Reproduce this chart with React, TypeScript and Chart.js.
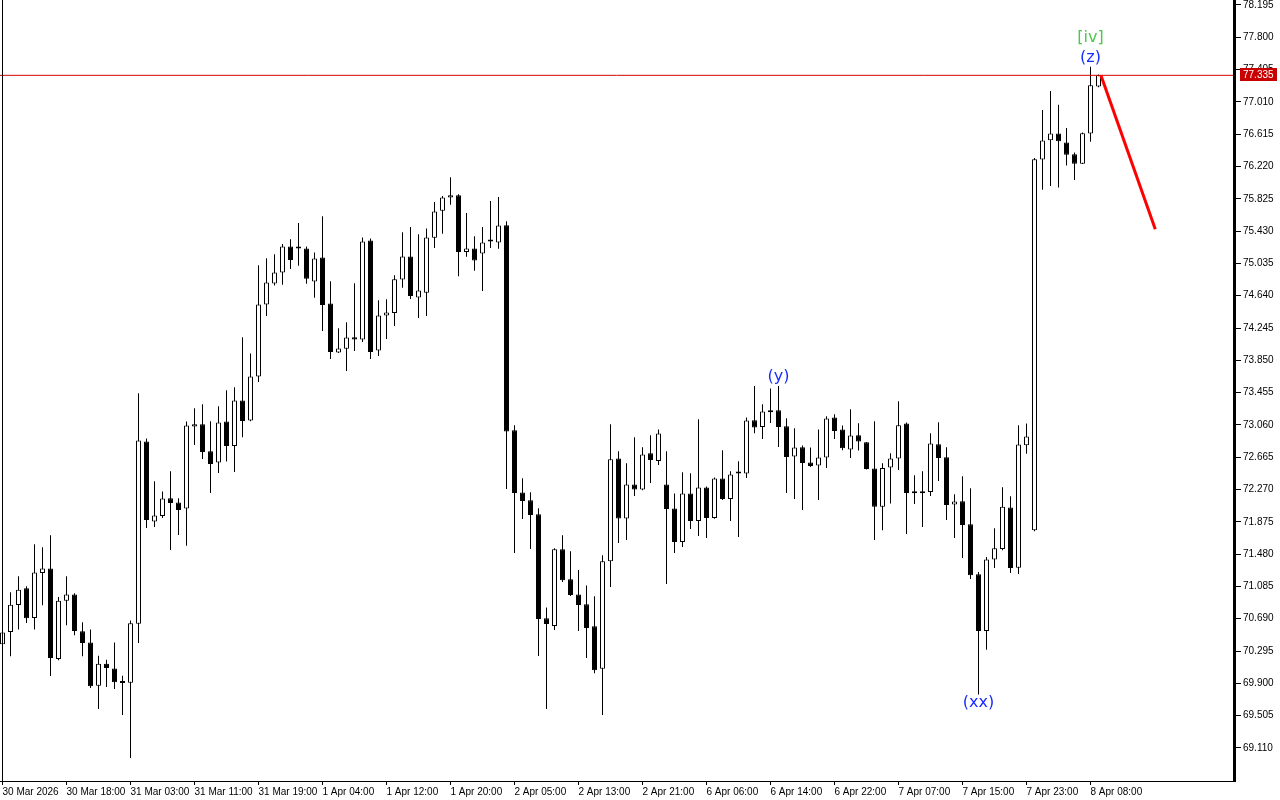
import React, { useEffect, useRef } from "react";
import { Chart, registerables } from "chart.js";

Chart.register(...registerables);

// Hourly OHLC candles (index 0 = first bar of the window)
const opens = [
  70.377, 70.527, 70.858, 71.062, 70.698, 71.249, 71.303, 70.197, 70.911, 70.988,
  70.536, 70.401, 69.871, 70.141, 70.083, 69.924, 69.908, 70.630, 72.857, 71.878,
  71.946, 72.163, 72.110, 72.037, 73.040, 73.068, 72.738, 72.600, 73.101, 72.803,
  73.358, 73.114, 73.652, 74.533, 74.790, 74.924, 75.243, 75.218, 75.218, 74.814,
  75.108, 74.545, 73.946, 73.990, 74.133, 74.105, 75.316, 73.970, 74.398, 74.430,
  74.839, 75.120, 74.619, 74.675, 75.348, 75.678, 75.842, 75.870, 75.176, 75.218,
  75.157, 75.304, 75.291, 75.503, 72.995, 72.233, 72.138, 71.967, 70.695, 70.601,
  71.539, 71.172, 70.988, 70.866, 70.597, 70.079, 71.392, 72.649, 71.915, 72.331,
  72.269, 72.714, 72.619, 72.331, 72.037, 71.628, 72.220, 71.885, 72.294, 71.922,
  72.404, 72.154, 72.465, 72.465, 73.117, 73.035, 73.240, 73.240, 73.044, 72.673,
  72.787, 72.600, 72.563, 72.661, 73.150, 73.003, 72.759, 72.934, 72.848, 72.526,
  72.061, 72.539, 72.649, 73.077, 72.233, 72.233, 72.240, 72.824, 72.665, 72.086,
  72.126, 71.845, 71.233, 70.539, 71.413, 71.543, 72.049, 71.315, 72.810, 71.771,
  76.305, 76.541, 76.623, 76.515, 76.369, 76.253, 76.623, 77.198,
];
const highs = [
  70.670, 71.013, 71.209, 71.086, 71.600, 71.563, 71.710, 70.955, 71.209, 71.001,
  70.646, 70.560, 70.238, 70.190, 70.401, 69.994, 70.670, 73.448, 72.893, 72.371,
  72.245, 72.493, 72.163, 73.101, 73.264, 73.313, 73.105, 73.289, 73.484, 73.521,
  74.133, 73.933, 75.014, 75.099, 75.148, 75.271, 75.332, 75.528, 75.243, 75.169,
  75.613, 74.818, 74.243, 74.316, 74.793, 75.353, 75.340, 74.585, 74.598, 74.891,
  75.417, 75.479, 75.393, 75.463, 75.785, 75.858, 76.090, 75.882, 75.650, 75.368,
  75.479, 75.797, 75.846, 75.552, 73.056, 72.408, 72.236, 72.041, 70.829, 71.551,
  71.710, 71.514, 71.286, 71.098, 70.964, 71.466, 73.068, 72.738, 72.591, 72.909,
  72.787, 72.934, 73.003, 72.738, 72.220, 72.481, 72.469, 73.130, 72.306, 72.416,
  72.750, 72.493, 72.616, 73.150, 73.537, 73.313, 73.505, 73.537, 73.142, 73.019,
  72.808, 72.783, 73.003, 73.166, 73.191, 73.052, 73.252, 73.081, 72.852, 73.105,
  72.591, 72.714, 73.350, 73.089, 72.444, 72.493, 72.958, 73.093, 72.787, 72.212,
  72.432, 72.285, 71.261, 71.445, 71.796, 72.298, 72.187, 73.056, 73.077, 76.323,
  76.910, 77.143, 76.975, 76.691, 76.390, 76.635, 77.439, 77.345,
];
const lows = [
  70.242, 70.230, 70.560, 70.637, 70.560, 70.854, 69.989, 70.181, 70.609, 70.487,
  70.230, 69.842, 69.585, 69.854, 69.830, 69.512, 68.986, 70.393, 71.800, 71.812,
  71.922, 71.530, 71.714, 71.584, 72.815, 72.644, 72.228, 72.472, 72.612, 72.485,
  72.909, 73.105, 73.586, 74.393, 74.765, 74.773, 74.968, 75.005, 74.785, 74.614,
  74.210, 73.867, 73.940, 73.720, 73.965, 74.075, 73.867, 73.904, 74.112, 74.271,
  74.736, 74.601, 74.369, 74.393, 75.225, 75.397, 75.751, 74.879, 75.115, 74.944,
  74.699, 75.225, 75.213, 72.277, 71.494, 71.910, 71.543, 70.233, 69.585, 70.552,
  71.139, 70.968, 70.539, 70.209, 70.025, 69.512, 71.078, 71.616, 71.653, 72.191,
  72.261, 72.350, 72.570, 71.114, 71.494, 71.567, 71.787, 71.702, 71.677, 71.912,
  72.142, 71.885, 71.689, 72.411, 72.958, 72.888, 73.084, 72.791, 72.228, 72.154,
  72.020, 72.546, 72.142, 72.534, 72.888, 72.750, 72.656, 72.747, 72.514, 71.653,
  71.771, 72.098, 72.509, 71.726, 72.093, 71.812, 72.191, 72.375, 71.897, 71.677,
  71.432, 71.175, 69.765, 70.312, 71.310, 71.527, 71.249, 71.237, 72.707, 71.759,
  75.936, 75.983, 75.962, 76.232, 76.056, 76.250, 76.524, 77.190,
];
const closes = [
  70.523, 70.862, 71.046, 70.695, 71.254, 71.303, 70.209, 70.911, 70.985, 70.539,
  70.393, 69.866, 70.141, 70.087, 69.915, 69.903, 70.634, 72.869, 71.897, 71.951,
  72.159, 72.105, 72.020, 73.052, 73.068, 72.729, 72.583, 73.089, 72.803, 73.358,
  73.109, 73.652, 74.533, 74.802, 74.924, 75.243, 75.078, 75.218, 74.846, 75.096,
  74.528, 73.953, 73.995, 74.129, 74.105, 75.304, 73.953, 74.398, 74.435, 74.842,
  75.120, 74.638, 74.704, 75.353, 75.671, 75.842, 75.870, 75.176, 75.218, 75.071,
  75.291, 75.304, 75.499, 72.979, 72.228, 72.130, 71.959, 70.686, 70.625, 71.539,
  71.160, 70.980, 70.858, 70.576, 70.059, 71.392, 72.640, 71.915, 72.331, 72.269,
  72.698, 72.632, 72.955, 72.032, 71.628, 72.220, 71.885, 72.294, 71.922, 72.404,
  72.154, 72.453, 72.465, 73.114, 73.028, 73.224, 73.215, 73.035, 72.668, 72.783,
  72.595, 72.558, 72.661, 73.138, 72.986, 72.775, 72.930, 72.857, 72.521, 72.061,
  72.534, 72.649, 73.056, 72.228, 72.224, 72.224, 72.832, 72.656, 72.081, 72.123,
  71.836, 71.221, 70.539, 71.413, 71.551, 72.061, 71.310, 72.820, 72.918, 76.309,
  76.537, 76.623, 76.528, 76.364, 76.253, 76.626, 77.215, 77.335,
];

// One time label every 8 bars
const xTickLabels = [
  "30 Mar 2026", "30 Mar 18:00", "31 Mar 03:00", "31 Mar 11:00", "31 Mar 19:00",
  "1 Apr 04:00", "1 Apr 12:00", "1 Apr 20:00", "2 Apr 05:00", "2 Apr 13:00",
  "2 Apr 21:00", "6 Apr 06:00", "6 Apr 14:00", "6 Apr 22:00", "7 Apr 07:00",
  "7 Apr 15:00", "7 Apr 23:00", "8 Apr 08:00",
];
const yTickValues = [
  78.195, 77.8, 77.405, 77.01, 76.615, 76.22, 75.825, 75.43, 75.035, 74.64,
  74.245, 73.85, 73.455, 73.06, 72.665, 72.27, 71.875, 71.48, 71.085, 70.69,
  70.295, 69.9, 69.505, 69.11,
];

const lastPrice = 77.335;
const trendX = [137.3, 144.1];
const trendY = [77.335, 75.454];

const waveTexts = ["[iv]", "(z)", "(y)", "(xx)"];
const waveIndex = [136, 136, 97, 122];
const waveValue = [77.79, 77.546, 73.643, 69.667];
const waveColors = ["#4cc84c", "#1a2cff", "#1a2cff", "#1a2cff"];

const X_MIN = -0.3125;
const PLOT_RIGHT = 1233;
const X_MAX = X_MIN + PLOT_RIGHT / 8;
const Y_MAX = 78.256;
const Y_MIN = 68.706;

export default function App() {
  const ref = useRef<HTMLCanvasElement>(null);

  useEffect(() => {
    const canvas = ref.current;
    if (!canvas) return;

    const wicks = opens.map((_, i) => ({ x: i, y: [lows[i], highs[i]] }));
    const bodies = opens.map((o, i) => ({ x: i, y: [o, closes[i]] }));
    const bodyFill = opens.map((o, i) => (closes[i] > o ? "#ffffff" : "#000000"));

    const overlay = {
      id: "overlay",
      afterDatasetsDraw(chart: any) {
        const { ctx, scales } = chart;
        const xs = scales.x;
        const ys = scales.y;
        ctx.save();
        ctx.font = '16px "DejaVu Sans"';
        ctx.textAlign = "center";
        ctx.textBaseline = "middle";
        waveTexts.forEach((t, k) => {
          ctx.fillStyle = waveColors[k];
          ctx.fillText(t, xs.getPixelForValue(waveIndex[k]), ys.getPixelForValue(waveValue[k]));
        });
        ctx.restore();
      },
      afterDraw(chart: any) {
        const { ctx, chartArea, scales } = chart;
        const ys = scales.y;
        ctx.save();
        ctx.fillStyle = "#000";
        ctx.fillRect(2, 0, 1, chartArea.bottom);
        ctx.fillRect(0, chartArea.bottom, chartArea.right + 3, 1);
        ctx.fillRect(chartArea.right, 0, 3, chartArea.bottom + 1);
        const py = Math.round(ys.getPixelForValue(lastPrice));
        ctx.fillStyle = "#c80000";
        ctx.fillRect(chartArea.right + 7, py - 7, 37, 13);
        ctx.fillStyle = "#ffffff";
        ctx.font = '10px "Liberation Sans"';
        ctx.textAlign = "left";
        ctx.textBaseline = "middle";
        ctx.fillText(lastPrice.toFixed(3), chartArea.right + 10, py);
        ctx.restore();
      },
    };

    const chart = new Chart(canvas, {
      type: "bar",
      data: {
        datasets: [
          {
            type: "line",
            data: [
              { x: trendX[0], y: trendY[0] },
              { x: trendX[1], y: trendY[1] },
            ],
            borderColor: "#ff0000",
            borderWidth: 3,
            pointRadius: 0,
            order: 1,
          } as any,
          {
            type: "line",
            data: [
              { x: X_MIN, y: lastPrice },
              { x: X_MAX, y: lastPrice },
            ],
            borderColor: "#d40000",
            borderWidth: 1,
            pointRadius: 0,
            order: 2,
          } as any,
          {
            type: "bar",
            data: bodies as any,
            backgroundColor: bodyFill,
            borderColor: "#000000",
            borderWidth: 1,
            borderSkipped: false,
            barThickness: 5,
            grouped: false,
            minBarLength: 2,
            inflateAmount: 0,
            order: 3,
          } as any,
          {
            type: "bar",
            data: wicks as any,
            backgroundColor: "#000000",
            borderWidth: 0,
            barThickness: 1,
            grouped: false,
            inflateAmount: 0,
            order: 4,
          } as any,
        ],
      },
      options: {
        responsive: false,
        animation: false,
        devicePixelRatio: 1,
        layout: { padding: 0, autoPadding: false } as any,
        plugins: {
          legend: { display: false },
          tooltip: { enabled: false },
        },
        scales: {
          x: {
            type: "linear",
            min: X_MIN,
            max: X_MAX,
            offset: false,
            bounds: "data",
            afterFit: (s: any) => {
              s.height = 19;
              s.paddingLeft = 0;
              s.paddingRight = 0;
              s.paddingTop = 0;
              s.paddingBottom = 0;
            },
            afterBuildTicks: (s: any) => {
              s.ticks = xTickLabels.map((_, k) => ({ value: k * 8 }));
            },
            grid: {
              display: true,
              drawOnChartArea: false,
              drawTicks: true,
              tickLength: 4,
              color: "#000000",
              offset: false,
            },
            border: { display: false },
            ticks: {
              autoSkip: false,
              maxRotation: 0,
              minRotation: 0,
              align: "start",
              padding: 1,
              color: "#000000",
              font: { family: "Liberation Sans", size: 10 },
              callback: (_v: any, idx: number) => xTickLabels[idx],
            },
          } as any,
          y: {
            type: "linear",
            position: "right",
            min: Y_MIN,
            max: Y_MAX,
            bounds: "data",
            afterFit: (s: any) => {
              s.width = 1280 - PLOT_RIGHT;
              s.paddingTop = 0;
              s.paddingBottom = 0;
              s.paddingLeft = 0;
              s.paddingRight = 0;
            },
            afterBuildTicks: (s: any) => {
              s.ticks = yTickValues.map((v) => ({ value: v }));
            },
            grid: {
              display: true,
              drawOnChartArea: false,
              drawTicks: true,
              tickLength: 8,
              color: "#000000",
            },
            border: { display: false },
            ticks: {
              padding: 2,
              color: "#000000",
              font: { family: "Liberation Sans", size: 10 },
              callback: (v: any) => Number(v).toFixed(3),
            },
          } as any,
        },
      },
      plugins: [overlay],
    });

    return () => chart.destroy();
  }, []);

  return (
    <div style={{ position: "fixed", left: 0, top: 0, width: 1280, height: 800, background: "#ffffff" }}>
      <canvas ref={ref} width={1280} height={800} style={{ display: "block" }} />
    </div>
  );
}
